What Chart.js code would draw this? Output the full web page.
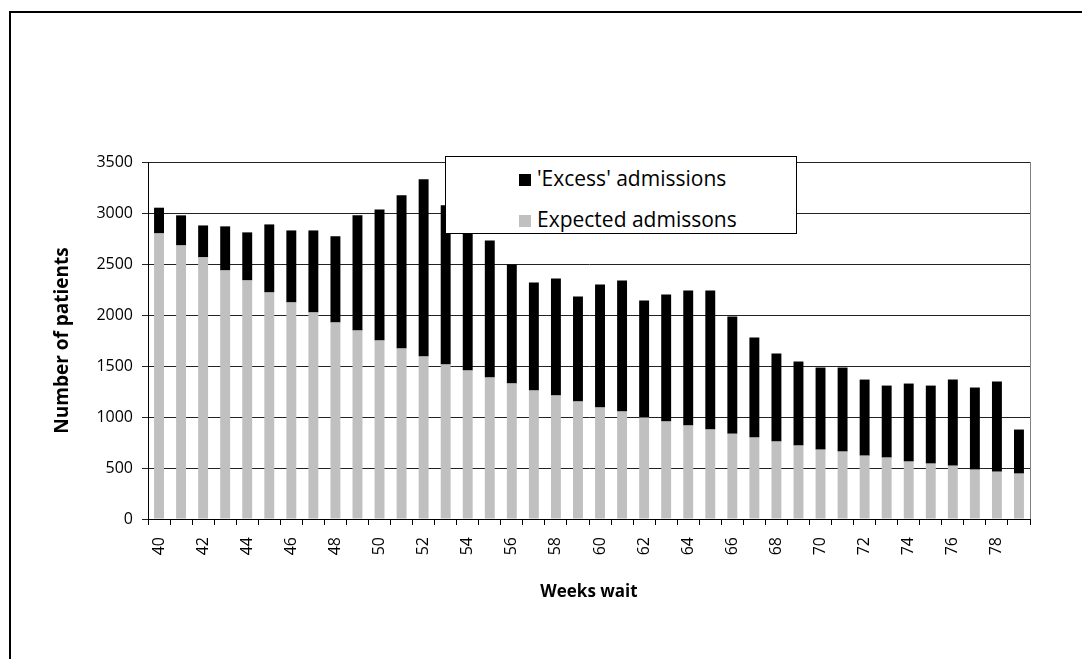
<!DOCTYPE html>
<html lang="en">
<head>
  <meta charset="UTF-8">
  <title>Weeks wait – admissions</title>
  <script src="https://cdn.jsdelivr.net/npm/chart.js"></script>
  <style>
    body { margin: 0; padding: 0; background: #fff; font-family: "Open Sans", sans-serif; }
    .wrap { position: relative; width: 1082px; height: 659px; overflow: hidden; }
    .frame {
      position: absolute; left: 9px; top: 11px; width: 1200px; height: 800px;
      border-left: 2px solid #000; border-top: 2px solid #000;
    }
    canvas { position: absolute; left: 0; top: 0; }
    .legend {
      position: absolute; left: 445px; top: 156px; width: 352px; height: 78px;
      background: #fff; border: 1px solid #000; box-sizing: border-box;
      color: #000; font-size: 21px; line-height: 24px;
    }
    .legend div { position: absolute; left: 73px; white-space: nowrap; }
    .legend span { display: inline-block; width: 12px; height: 12px; margin-right: 6px; vertical-align: 0px; }
  </style>
</head>
<body>
  <div class="wrap">
    <div class="frame"></div>
    <canvas id="chart" width="1082" height="659"></canvas>
    <div class="legend" id="legend"></div>
  </div>

  <script>
    const weeks = ['40','41','42','43','44','45','46','47','48','49',
                   '50','51','52','53','54','55','56','57','58','59',
                   '60','61','62','63','64','65','66','67','68','69',
                   '70','71','72','73','74','75','76','77','78','79'];

    const expected = [2800, 2682, 2565, 2437, 2339, 2221, 2123, 2025, 1927, 1848,
                      1750, 1671, 1593, 1514, 1456, 1387, 1328, 1259, 1210, 1151,
                      1093, 1053, 994, 955, 916, 877, 837, 798, 759, 720,
                      680, 661, 621, 602, 563, 543, 523, 484, 464, 445];

    const excess = [252, 295, 313, 432, 471, 667, 706, 804, 844, 1129,
                    1285, 1502, 1737, 1561, 1460, 1344, 1168, 1060, 1148, 1031,
                    1207, 1286, 1148, 1246, 1325, 1364, 1148, 981, 863, 824,
                    805, 824, 746, 706, 765, 765, 844, 805, 884, 432];

    const yTicks = [0, 500, 1000, 1500, 2000, 2500, 3000, 3500];

    const font = '"Open Sans", sans-serif';

    // grey right edge of the plot area
    const plotEdge = {
      id: 'plotEdge',
      afterDraw(chart) {
        const a = chart.chartArea, ctx = chart.ctx;
        ctx.save();
        ctx.strokeStyle = '#808080';
        ctx.lineWidth = 1;
        ctx.beginPath();
        ctx.moveTo(Math.round(a.right) + 0.5, a.top);
        ctx.lineTo(Math.round(a.right) + 0.5, a.bottom);
        ctx.stroke();
        ctx.restore();
      }
    };

    const chart = new Chart(document.getElementById('chart'), {
      type: 'bar',
      data: {
        labels: weeks,
        datasets: [
          {
            label: 'Expected admissons',
            data: expected,
            backgroundColor: '#c0c0c0',
            barPercentage: 0.9,
            categoryPercentage: 0.5
          },
          {
            label: "'Excess' admissions",
            data: excess,
            backgroundColor: '#000000',
            barPercentage: 0.9,
            categoryPercentage: 0.5
          }
        ]
      },
      options: {
        responsive: false,
        animation: false,
        layout: { padding: { left: 51, top: 162, right: 52, bottom: 57 } },
        plugins: {
          legend: { display: false },
          tooltip: { enabled: false }
        },
        scales: {
          x: {
            stacked: true,
            afterFit(scale) { scale.height = 83; },
            grid: { drawOnChartArea: false, offset: true, tickLength: 6, color: '#000' },
            border: { color: '#000', width: 1 },
            ticks: {
              autoSkip: false,
              maxRotation: 90,
              minRotation: 90,
              padding: 12,
              color: '#000',
              font: { family: font, size: 16 },
              callback(v, i) { return i % 2 === 0 ? weeks[i] : ''; }
            },
            title: {
              display: true,
              text: 'Weeks wait',
              color: '#000',
              font: { family: font, size: 17, weight: 'bold' },
              padding: { top: 14, bottom: 0 }
            }
          },
          y: {
            stacked: true,
            min: 0,
            max: 3500,
            afterFit(scale) { scale.width = 97; },
            afterBuildTicks(scale) { scale.ticks = yTicks.map(v => ({ value: v })); },
            grid: { color: '#222', tickLength: 6 },
            border: { color: '#000', width: 1 },
            ticks: {
              padding: 9,
              color: '#000',
              font: { family: font, size: 16 },
              callback(v) { return String(v); }
            },
            title: {
              display: true,
              text: 'Number of patients',
              color: '#000',
              font: { family: font, size: 19, weight: 'bold' },
              padding: { top: 0, bottom: 0 }
            }
          }
        }
      },
      plugins: [plotEdge]
    });

    // legend box, top series first
    const legend = document.getElementById('legend');
    chart.data.datasets.slice().reverse().forEach((ds, i) => {
      const row = document.createElement('div');
      row.style.top = (i === 0 ? 9 : 50) + 'px';
      row.innerHTML = `<span style="background:${ds.backgroundColor}"></span>${ds.label}`;
      legend.appendChild(row);
    });
  </script>
</body>
</html>
